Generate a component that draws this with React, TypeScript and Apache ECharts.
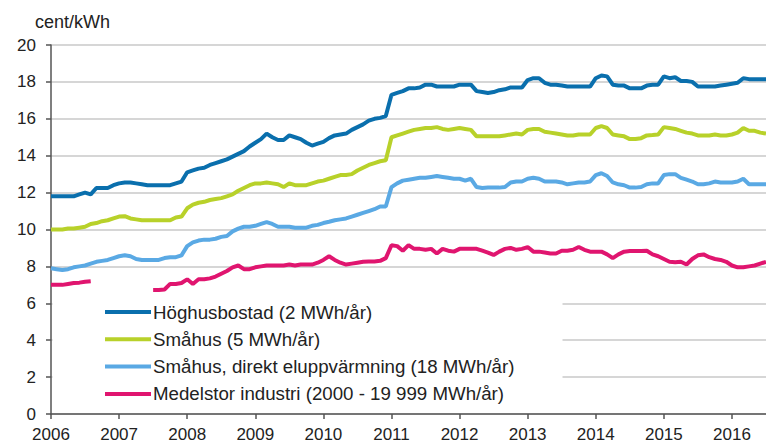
import React, { useEffect, useRef } from "react";
import * as echarts from "echarts";

// Monthly categories Jan 2006 – Jul 2016
const years = ["2006", "2007", "2008", "2009", "2010", "2011", "2012", "2013", "2014", "2015", "2016"];
const monthsInLastYear = 7;
const months: string[] = [];
years.forEach((y, yi) => {
  const n = yi === years.length - 1 ? monthsInLastYear : 12;
  for (let m = 1; m <= n; m++) months.push(`${y}M${m < 10 ? "0" + m : m}`);
});

const seriesNames = [
  "Höghusbostad (2 MWh/år)",
  "Småhus (5 MWh/år)",
  "Småhus, direkt eluppvärmning (18 MWh/år)",
  "Medelstor industri (2000 - 19 999 MWh/år)",
];

const hoghus = [
  11.8, 11.8, 11.8, 11.8, 11.8, 11.9, 12.0, 11.9, 12.25, 12.25, 12.25, 12.4,
  12.5, 12.55, 12.55, 12.5, 12.45, 12.4, 12.4, 12.4, 12.4, 12.4, 12.5, 12.6,
  13.1, 13.2, 13.3, 13.35, 13.5, 13.6, 13.7, 13.8, 13.95, 14.1, 14.25, 14.5,
  14.7, 14.9, 15.2, 15.0, 14.85, 14.85, 15.1, 15.0, 14.9, 14.7, 14.55, 14.65,
  14.75, 14.95, 15.1, 15.15, 15.2, 15.4, 15.55, 15.7, 15.9, 16.0, 16.05, 16.15,
  17.3, 17.4, 17.5, 17.65, 17.65, 17.7, 17.85, 17.85, 17.75, 17.75, 17.75, 17.75,
  17.85, 17.85, 17.85, 17.5, 17.45, 17.4, 17.45, 17.55, 17.6, 17.7, 17.7, 17.7,
  18.1, 18.2, 18.2, 17.95, 17.85, 17.85, 17.8, 17.75, 17.75, 17.75, 17.75, 17.75,
  18.2, 18.35, 18.3, 17.85, 17.8, 17.8, 17.65, 17.65, 17.65, 17.8, 17.85, 17.85,
  18.3, 18.2, 18.25, 18.05, 18.05, 18.0, 17.75, 17.75, 17.75, 17.75, 17.8, 17.85,
  17.9, 17.95, 18.2, 18.15, 18.15, 18.15, 18.15,
];

const smahus = [
  10.0, 10.0, 10.0, 10.05, 10.05, 10.1, 10.15, 10.3, 10.35, 10.45, 10.5, 10.6,
  10.7, 10.72, 10.6, 10.55, 10.5, 10.5, 10.5, 10.5, 10.5, 10.5, 10.65, 10.7,
  11.15, 11.35, 11.45, 11.5, 11.6, 11.65, 11.7, 11.8, 11.9, 12.1, 12.25, 12.4,
  12.5, 12.5, 12.55, 12.5, 12.45, 12.3, 12.5, 12.4, 12.4, 12.4, 12.5, 12.6,
  12.65, 12.75, 12.85, 12.95, 12.95, 13.0, 13.2, 13.35, 13.5, 13.6, 13.7, 13.75,
  15.0, 15.1, 15.2, 15.3, 15.4, 15.45, 15.5, 15.5, 15.55, 15.45, 15.4, 15.45,
  15.5, 15.45, 15.4, 15.05, 15.05, 15.05, 15.05, 15.05, 15.1, 15.15, 15.2, 15.15,
  15.4, 15.45, 15.45, 15.3, 15.25, 15.2, 15.15, 15.1, 15.1, 15.15, 15.15, 15.15,
  15.5, 15.6, 15.5, 15.15, 15.1, 15.05, 14.9, 14.9, 14.95, 15.1, 15.12, 15.15,
  15.55, 15.5, 15.45, 15.35, 15.25, 15.2, 15.1, 15.1, 15.1, 15.15, 15.1, 15.1,
  15.15, 15.25, 15.5, 15.35, 15.35, 15.25, 15.2,
];

const direkt = [
  7.9, 7.85, 7.8, 7.85, 7.95, 8.0, 8.05, 8.15, 8.25, 8.3, 8.35, 8.45,
  8.55, 8.6, 8.55, 8.4, 8.35, 8.35, 8.35, 8.35, 8.45, 8.5, 8.5, 8.6,
  9.1, 9.3, 9.4, 9.45, 9.45, 9.5, 9.6, 9.65, 9.9, 10.05, 10.15, 10.15,
  10.2, 10.3, 10.4, 10.3, 10.15, 10.15, 10.15, 10.1, 10.1, 10.1, 10.2, 10.25,
  10.35, 10.42, 10.5, 10.55, 10.6, 10.7, 10.8, 10.9, 11.0, 11.1, 11.25, 11.25,
  12.3, 12.5, 12.65, 12.7, 12.75, 12.8, 12.8, 12.85, 12.9, 12.85, 12.8, 12.75,
  12.75, 12.65, 12.75, 12.3, 12.25, 12.27, 12.27, 12.27, 12.3, 12.55, 12.6, 12.6,
  12.75, 12.8, 12.75, 12.6, 12.6, 12.6, 12.55, 12.45, 12.5, 12.55, 12.55, 12.6,
  12.95, 13.05, 12.9, 12.55, 12.45, 12.4, 12.27, 12.27, 12.3, 12.45, 12.5, 12.5,
  12.95, 13.0, 13.0, 12.8, 12.7, 12.6, 12.45, 12.45, 12.5, 12.6, 12.55, 12.55,
  12.55, 12.6, 12.75, 12.45, 12.45, 12.45, 12.45,
];

const industri = [
  7.0, 7.0, 7.0, 7.05, 7.1, 7.12, 7.17, 7.2, null, null, null, null,
  null, null, null, null, null, null, 6.72, 6.72, 6.75, 7.05, 7.05, 7.1,
  7.3, 7.05, 7.3, 7.3, 7.35, 7.45, 7.6, 7.75, 7.95, 8.05, 7.85, 7.85,
  7.95, 8.0, 8.05, 8.05, 8.05, 8.05, 8.1, 8.05, 8.1, 8.1, 8.1, 8.2,
  8.35, 8.55, 8.35, 8.2, 8.1, 8.15, 8.2, 8.25, 8.27, 8.27, 8.3, 8.45,
  9.15, 9.1, 8.85, 9.15, 8.95, 8.95, 8.9, 8.95, 8.7, 8.95, 8.85, 8.8,
  8.95, 8.95, 8.95, 8.95, 8.85, 8.75, 8.62, 8.8, 8.95, 9.0, 8.9, 8.95,
  9.05, 8.8, 8.8, 8.75, 8.7, 8.7, 8.85, 8.85, 8.9, 9.05, 8.9, 8.8,
  8.8, 8.8, 8.65, 8.45, 8.65, 8.8, 8.83, 8.83, 8.83, 8.85, 8.65, 8.55,
  8.4, 8.25, 8.22, 8.25, 8.1, 8.4, 8.6, 8.65, 8.5, 8.4, 8.35, 8.25,
  8.05, 7.95, 7.95, 8.0, 8.05, 8.15, 8.25,
];

const colors = ["#0a6fad", "#b8d12a", "#5aa9e4", "#e0156f"];
const FONT = "'Liberation Sans', Arial, sans-serif";

export default function App() {
  const ref = useRef<HTMLDivElement>(null);
  useEffect(() => {
    if (!ref.current) return;
    const chart = echarts.init(ref.current, null, { renderer: "svg" });
    const dataSets = [hoghus, smahus, direkt, industri];
    chart.setOption({
      animation: false,
      color: colors,
      textStyle: { fontFamily: FONT },
      grid: { left: 51, top: 45, bottom: 30, right: -2.5, containLabel: false },
      graphic: [
        {
          type: "rect",
          z: 1,
          shape: { x: 52.5, y: 296, width: 510, height: 116 },
          style: { fill: "#ffffff" },
        },
        {
          type: "text",
          left: 35,
          top: 13,
          style: { text: "cent/kWh", font: `18px ${FONT}`, fill: "#222" },
        },
      ],
      legend: {
        orient: "vertical",
        left: 100,
        top: 297,
        icon: "rect",
        itemWidth: 46,
        itemHeight: 4,
        itemGap: 7.3,
        data: seriesNames,
        textStyle: { fontSize: 18.7, color: "#222", fontFamily: FONT, lineHeight: 20, padding: [0, 0, 0, -3] },
      },
      xAxis: {
        type: "category",
        data: months,
        boundaryGap: false,
        axisLine: { lineStyle: { color: "#555", width: 1.5 } },
        axisTick: { interval: 11, length: 5, lineStyle: { color: "#555", width: 1.5 } },
        axisLabel: {
          interval: 11,
          margin: 12,
          fontSize: 17,
          color: "#222",
          fontFamily: FONT,
          formatter: (v: string) => v.slice(0, 4),
        },
        splitLine: { show: false },
      },
      yAxis: {
        type: "value",
        min: 0,
        max: 20,
        interval: 2,
        axisLine: { show: true, lineStyle: { color: "#555", width: 1.5 } },
        axisTick: { show: true, length: 5, lineStyle: { color: "#555", width: 1.5 } },
        axisLabel: { margin: 15, fontSize: 17, color: "#222", fontFamily: FONT },
        splitLine: { lineStyle: { color: "#c8c8c8", width: 1.5 } },
      },
      series: seriesNames.map((name, i) => ({
        name,
        type: "line",
        data: dataSets[i],
        showSymbol: false,
        connectNulls: false,
        z: 2,
        lineStyle: { width: 4, color: colors[i] },
        itemStyle: { color: colors[i] },
      })),
    });
    return () => chart.dispose();
  }, []);
  return (
    <div
      ref={ref}
      style={{ position: "fixed", left: 0, top: 0, width: 766, height: 444, background: "#fff" }}
    />
  );
}
